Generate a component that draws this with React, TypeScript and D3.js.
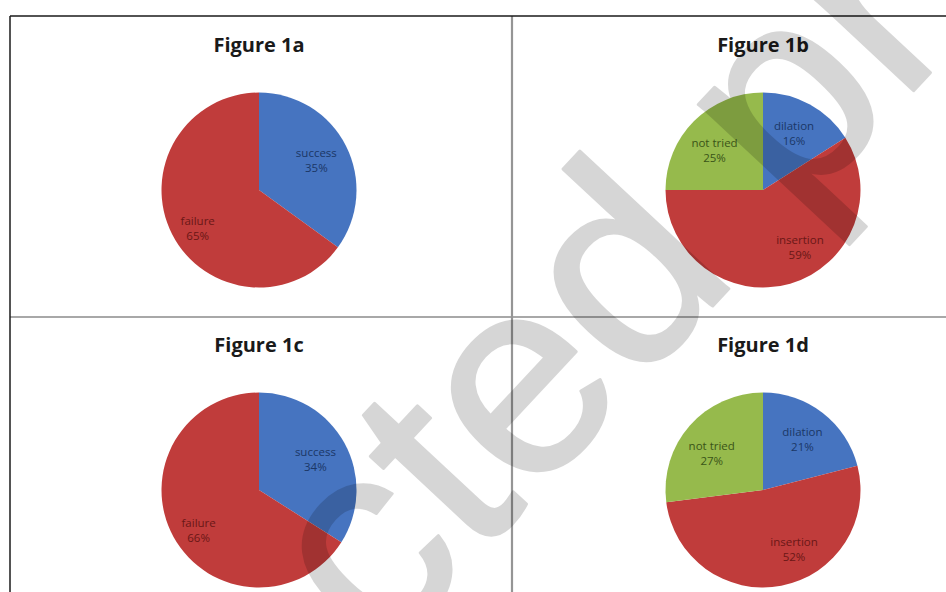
import React from 'react';
import * as d3 from 'd3';

// ---- data ----
const figureTitles = ['Figure 1a', 'Figure 1b', 'Figure 1c', 'Figure 1d'];
const outcomeCategories = ['success', 'failure'];
const fig1aValues = [35, 65];
const fig1cValues = [34, 66];
const methodCategories = ['dilation', 'insertion', 'not tried'];
const fig1bValues = [16, 59, 25];
const fig1dValues = [21, 52, 27];
const watermarkText = 'Uncorrected proof';

// ---- styling / layout ----
const W = 946;
const H = 592;
const sliceColor: Record<string, string> = {
  success: '#4674c0',
  failure: '#c03c3b',
  dilation: '#4674c0',
  insertion: '#c03c3b',
  'not tried': '#96ba4c',
};
const labelColor: Record<string, string> = {
  success: '#1b3766',
  failure: '#6a1716',
  dilation: '#1b3766',
  insertion: '#6a1716',
  'not tried': '#3a5418',
};
const labelNudge: Record<string, [number, number]> = {
  success: [0, 0],
  failure: [-4, 9],
  dilation: [0, 0],
  insertion: [19, -4],
  'not tried': [-3, 6],
};

const panels = [
  { title: figureTitles[0], cats: outcomeCategories, vals: fig1aValues, col: 0, row: 0 },
  { title: figureTitles[1], cats: methodCategories, vals: fig1bValues, col: 1, row: 0 },
  { title: figureTitles[2], cats: outcomeCategories, vals: fig1cValues, col: 0, row: 1 },
  { title: figureTitles[3], cats: methodCategories, vals: fig1dValues, col: 1, row: 1 },
];

const colScale = d3.scaleBand<number>().domain([0, 1]).range([7, 1015]);
const rowScale = d3.scaleBand<number>().domain([0, 1]).range([16, 616]);
const R = 97.5;

const pieGen = d3
  .pie<number>()
  .sort(null)
  .value((d) => d);
const arcGen = d3.arc<d3.PieArcDatum<number>>().innerRadius(0).outerRadius(R);
const labelArc = d3
  .arc<d3.PieArcDatum<number>>()
  .innerRadius(R * 0.66)
  .outerRadius(R * 0.66);

function Panel({ p }: { p: (typeof panels)[number] }) {
  const cx = (colScale(p.col) as number) + colScale.bandwidth() / 2;
  const top = rowScale(p.row) as number;
  const cy = top + 174;
  const arcs = pieGen(p.vals);
  return (
    <g>
      <text
        x={cx}
        y={top + 36}
        textAnchor="middle"
        fontFamily="'Open Sans', sans-serif"
        fontWeight={700}
        fontSize={20}
        fill="#1a1a1a"
      >
        {p.title}
      </text>
      <g transform={`translate(${cx},${cy})`}>
        {arcs.map((a, i) => (
          <path key={i} d={arcGen(a) || ''} fill={sliceColor[p.cats[i]]} />
        ))}
        {arcs.map((a, i) => {
          const [lx0, ly0] = labelArc.centroid(a);
          const [nx, ny] = labelNudge[p.cats[i]];
          const lx = lx0 + nx;
          const ly = ly0 + ny;
          return (
            <text
              key={'l' + i}
              textAnchor="middle"
              fontFamily="'Open Sans', sans-serif"
              fontSize={11.5}
              fill={labelColor[p.cats[i]]}
            >
              <tspan x={lx} y={ly - 3.5}>
                {p.cats[i]}
              </tspan>
              <tspan x={lx} y={ly + 11.5}>
                {`${p.vals[i]}%`}
              </tspan>
            </text>
          );
        })}
      </g>
    </g>
  );
}

export default function App() {
  const divX = colScale(1) as number; // column split
  const divY = rowScale(1) as number; // row split
  return (
    <svg
      width={W}
      height={H}
      style={{ position: 'absolute', left: 0, top: 0, background: '#fff' }}
    >
      <rect x={0} y={0} width={W} height={H} fill="#fff" />
      {/* grid lines */}
      <line x1={10} x2={W} y1={divY + 1} y2={divY + 1} stroke="#a8a8a8" strokeWidth={2} />
      <line x1={divX + 1} x2={divX + 1} y1={16} y2={H} stroke="#959595" strokeWidth={2.2} />
      <line x1={10} x2={W} y1={16} y2={16} stroke="#1a1a1a" strokeWidth={1.5} />
      <line x1={10} x2={10} y1={16} y2={H} stroke="#1a1a1a" strokeWidth={1.5} />
      {panels.map((p, i) => (
        <Panel key={i} p={p} />
      ))}
      {/* watermark */}
      <g opacity={0.155}>
        <text
          transform="translate(-299,1391) rotate(-47)"
          fontFamily="'Liberation Sans', Arial, sans-serif"
          fontSize={280}
          fill="#000"
          stroke="#000"
          strokeWidth={3}
          strokeLinejoin="round"
        >
          {watermarkText}
        </text>
      </g>
    </svg>
  );
}
